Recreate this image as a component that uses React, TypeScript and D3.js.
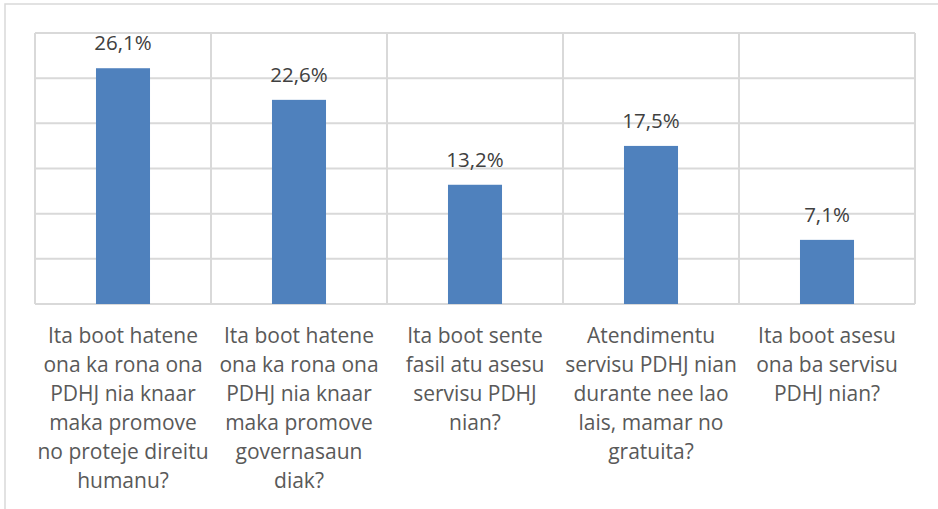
import * as d3 from "d3";
import React from "react";

// survey answers (percent)
const categories: string[][] = [
  ["Ita boot hatene", "ona ka rona ona", "PDHJ nia knaar", "maka promove", "no proteje direitu", "humanu?"],
  ["Ita boot hatene", "ona ka rona ona", "PDHJ nia knaar", "maka promove", "governasaun", "diak?"],
  ["Ita boot sente", "fasil atu asesu", "servisu PDHJ", "nian?"],
  ["Atendimentu", "servisu PDHJ nian", "durante nee lao", "lais, mamar no", "gratuita?"],
  ["Ita boot asesu", "ona ba servisu", "PDHJ nian?"],
];
const values = [26.1, 22.6, 13.2, 17.5, 7.1];
const valueLabels = ["26,1%", "22,6%", "13,2%", "17,5%", "7,1%"];
const yTicks = [0, 5, 10, 15, 20, 25, 30];

const W = 938;
const H = 509;
const left = 35;
const right = 915;
const top = 33;
const bottom = 304;
const font = "'Open Sans', sans-serif";

export default function App() {
  const x = d3
    .scaleBand<number>()
    .domain(d3.range(values.length))
    .range([left, right])
    .paddingInner(0.693)
    .paddingOuter(0.3465);
  const y = d3.scaleLinear().domain([0, 30]).range([bottom, top]);
  const step = (right - left) / values.length;

  return (
    <div style={{ position: "fixed", left: 0, top: 0 }}>
      <svg width={W} height={H} style={{ display: "block", background: "#fff" }}>
        {/* chart frame */}
        <rect x={5} y={4} width={W} height={H} fill="#fff" stroke="#d9d9d9" strokeWidth={1.5} />
        {/* grid */}
        <g stroke="#d9d9d9" strokeWidth={2}>
          {yTicks.map((t) => (
            <line key={t} x1={left} x2={right} y1={y(t)} y2={y(t)} />
          ))}
          {d3.range(values.length + 1).map((i) => (
            <line key={i} x1={left + i * step} x2={left + i * step} y1={top} y2={bottom} />
          ))}
        </g>
        {/* bars */}
        {values.map((v, i) => (
          <rect
            key={i}
            x={x(i)}
            y={y(v)}
            width={x.bandwidth()}
            height={bottom - y(v)}
            fill="#4f81bd"
          />
        ))}
        {/* value labels */}
        {values.map((v, i) => (
          <text
            key={i}
            x={(x(i) as number) + x.bandwidth() / 2}
            y={y(v) - 18}
            textAnchor="middle"
            fontFamily={font}
            fontSize={20.5}
            fill="#404040"
          >
            {valueLabels[i]}
          </text>
        ))}
        {/* category labels */}
        {categories.map((lines, i) => (
          <text
            key={i}
            textAnchor="middle"
            fontFamily={font}
            fontSize={21}
            fill="#595959"
          >
            {lines.map((l, j) => (
              <tspan key={j} x={left + step * (i + 0.5)} y={343 + j * 29}>
                {l}
              </tspan>
            ))}
          </text>
        ))}
      </svg>
    </div>
  );
}
